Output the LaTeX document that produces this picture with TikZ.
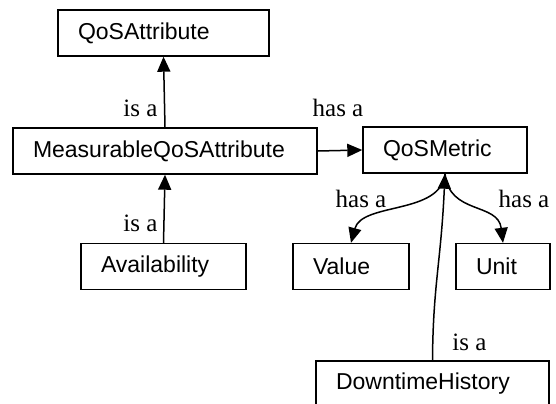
\documentclass[tikz,border=0pt]{standalone}
\usepackage{fontspec}
\setmainfont{Liberation Serif}
\setsansfont{Liberation Sans}
\usepackage{tikz}
\usetikzlibrary{arrows.meta}

\tikzset{
  cls/.style={draw, line width=0.7pt, font=\sffamily\fontsize{11.5}{13}\selectfont,
    minimum height=23pt, inner xsep=10pt, inner ysep=0pt, align=left},
  lbl/.style={font=\fontsize{12.5}{14}\selectfont, inner sep=0pt},
  rel/.style={line width=0.75pt, -{Triangle[length=7.5pt,width=6.5pt]}}
}

\begin{document}
\begin{tikzpicture}[x=0.5pt,y=-0.5pt]
        \useasboundingbox (0,0) rectangle (556,403);
        % classes
        \node [cls, text width=85.5pt] (attr) at (163.5,33) {QoSAttribute};
        \node [cls, text width=132pt] (mqa) at (165,151) {MeasurableQoSAttribute};
        \node [cls, text width=62.5pt] (avail) at (163.5,266.5) {Availability};
        \node [cls, text width=62pt] (metric) at (445,150) {QoSMetric};
        \node [cls, text width=38pt] (value) at (351,266.5) {Value};
        \node [cls, text width=27pt] (unit) at (503,266.5) {Unit};
        \node [cls, text width=96.5pt] (downtime) at (432.5,384) {DowntimeHistory};
        % relations
        \draw [rel] (mqa.north) -- (attr.south);
        \draw [rel] (avail.north) -- (mqa.south);
        \draw [rel] (mqa.east) -- (metric.west);
        \draw [rel] (metric.south) .. controls (441,215) and (362,202) .. (value.north);
        \draw [rel] (metric.south) .. controls (449,215) and (498,202) .. (unit.north);
        \draw [rel] (downtime.north) .. controls (433,285) and (441,262) .. (metric.south);
        % labels
        \node [lbl] (isa1) at (140.5,108) {is a};
        \node [lbl] (isa2) at (140.5,223) {is a};
        \node [lbl] (hasa1) at (338,107.5) {has a};
        \node [lbl] (hasa2) at (361,199) {has a};
        \node [lbl] (hasa3) at (524,199) {has a};
        \node [lbl] (isa3) at (469.5,342) {is a};
\end{tikzpicture}
\end{document}
